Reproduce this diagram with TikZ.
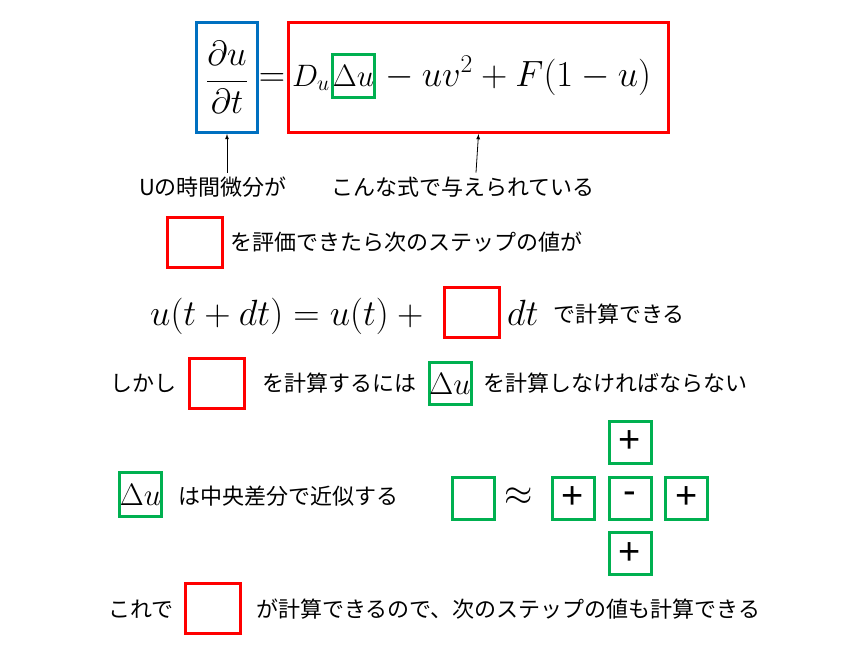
\RequirePackage{fix-cm}
\documentclass[tikz,border=0pt]{standalone}
\usepackage{fontspec}
\newfontfamily\jp{Noto Sans CJK JP}
\newfontfamily\signfont{Liberation Sans}
\definecolor{boxred}{RGB}{255,0,0}
\definecolor{boxblue}{RGB}{0,112,192}
\definecolor{boxgreen}{RGB}{0,176,80}
\tikzset{
  jtext/.style={font=\jp\fontsize{22}{26}\selectfont, inner sep=0pt},
  eqtext/.style={font=\fontsize{36.5}{42}\selectfont, inner sep=0pt},
  boxmath/.style={font=\fontsize{31}{36}\selectfont, inner sep=0pt},
  redbox/.style={draw=boxred, line width=3pt, minimum width=55pt, minimum height=50pt, inner sep=0pt},
  greenbox/.style={draw=boxgreen, line width=3pt, minimum width=42pt, minimum height=42pt, boxmath},
  signbox/.style={greenbox, font=\signfont\fontsize{38}{42}\selectfont},
}
\begin{document}
\begin{tikzpicture}[>=latex, x=1pt, y=-1pt]
\useasboundingbox (0,0) rectangle (857,661);
% the equation
\node[draw=boxblue, line width=3pt, minimum width=61pt, minimum height=110pt, inner sep=0pt, font=\fontsize{35}{42}\selectfont] (dudt) at (227,77.5) {$\displaystyle\frac{\partial u}{\partial t}$};
\node[eqtext] (eq) at (272,80) {$=$};
\node[draw=boxred, line width=3pt, minimum width=380pt, minimum height=110pt] (rhs) at (478.5,77.5) {};
\node[greenbox, text depth=0pt, text height=20pt] (lap) at (353.5,76) {$\Delta u$};
\node[boxmath, anchor=base east] (du) at ([xshift=-1pt]lap.base west) {$D_u$};
\node[eqtext, anchor=base west] (rest) at ([xshift=1pt]lap.base east) {${}-uv^2 + F(1-u)$};
\node[jtext, inner sep=4pt] (lbl1) at (213,187) {Uの時間微分が};
\node[jtext, inner sep=4pt] (lbl2) at (463,187) {こんな式で与えられている};
\draw[->, line width=0.8pt] (lbl1.north -| dudt.south) -- (dudt.south);
\draw[->, line width=0.8pt] ([xshift=13pt]lbl2.north) -- (rhs.south);
% next step
\node[redbox] (ev1) at (195,242.5) {};
\node[jtext, anchor=west] (t2) at (230,242) {を評価できたら次のステップの値が};
\node[eqtext, anchor=base west] (step) at (150,325) {$u(t+dt)=u(t)+{}$};
\node[redbox] (ev2) at (472,312.5) {};
\node[eqtext, anchor=base west] (dt) at (507,325) {$dt$};
\node[jtext, anchor=west] (t3) at (553,314) {で計算できる};
% but
\node[jtext, anchor=west] (t4a) at (110,383) {しかし};
\node[redbox] (ev3) at (217,383) {};
\node[jtext, anchor=west] (t4b) at (262,383) {を計算するには};
\node[greenbox] (lap2) at (450,383.5) {$\Delta u$};
\node[jtext, anchor=west] (t4c) at (483,383) {を計算しなければならない};
% central difference
\node[greenbox, minimum height=44pt] (lap3) at (140.5,494.5) {$\Delta u$};
\node[jtext, anchor=west] (t5) at (178,496) {は中央差分で近似する};
\node[greenbox] (lap4) at (473.5,498) {};
\node[eqtext] (approx) at (519,497) {$\approx$};
\node[signbox] (w) at (573,498) {+};
\node[signbox] (c) at (630,498) {-};
\node[signbox] (e) at (686.5,498) {+};
\node[signbox] (n) at (630,442) {+};
\node[signbox] (s) at (630,553.5) {+};
% so
\node[jtext, anchor=west] (t6a) at (108,609) {これで};
\node[redbox] (ev4) at (212.5,608.5) {};
\node[jtext, anchor=west] (t6b) at (256,609) {が計算できるので、次のステップの値も計算できる};
\end{tikzpicture}
\end{document}
